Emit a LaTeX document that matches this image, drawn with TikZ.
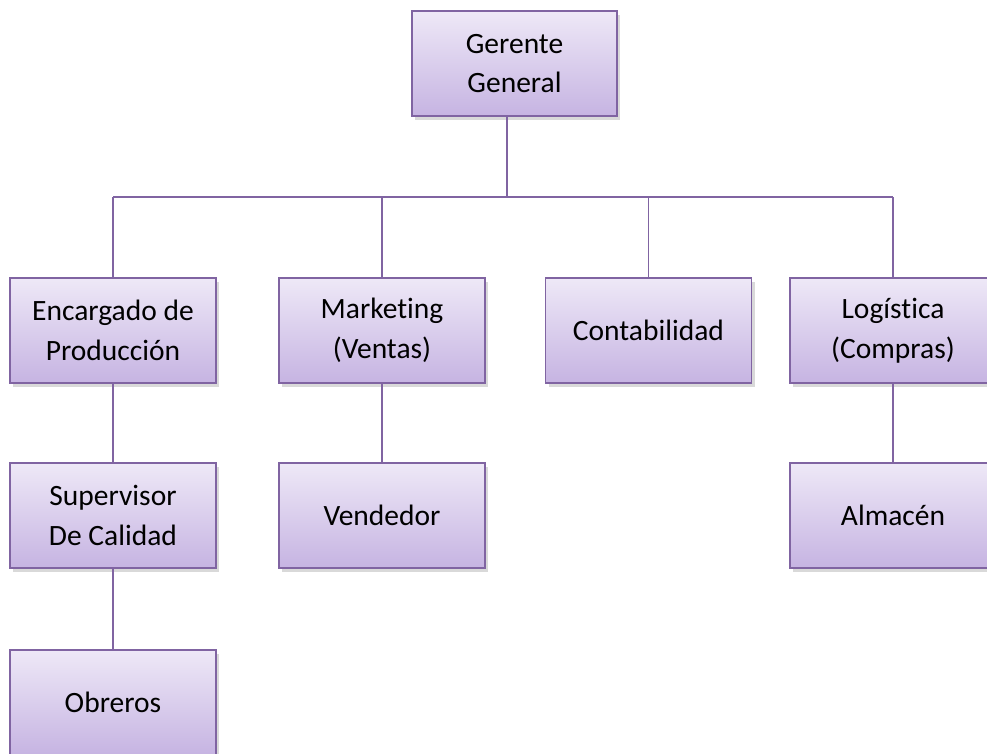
\documentclass[tikz,border=0pt]{standalone}
\usepackage{fontspec}
\setmainfont{Carlito}[Ligatures={NoCommon}]
\usetikzlibrary{shadows}
\definecolor{boxborder}{HTML}{8064A2}
\definecolor{boxtop}{HTML}{EEE8F7}
\definecolor{boxbottom}{HTML}{C6B4E2}
\definecolor{linkcol}{HTML}{8064A2}
\tikzset{
  orgbox/.style={draw=boxborder, line width=1.6pt, top color=boxtop, bottom color=boxbottom,
    minimum width=206pt, minimum height=105pt, align=center, inner sep=2pt,
    font=\fontsize{29.5}{39.5}\selectfont,
    drop shadow={shadow xshift=3pt, shadow yshift=-4pt, opacity=0.25, fill=black!60}},
  link/.style={draw=linkcol, line width=1.8pt}
}
\begin{document}
\begin{tikzpicture}[x=1pt,y=-1pt]
\useasboundingbox (0,0) rectangle (987,753);
\node[orgbox, minimum width=205pt] (gg) at (514.5,63.5) {Gerente\\General};
\node[orgbox] (enc) at (113,330.5) {Encargado de\\Producción};
\node[orgbox] (mkt) at (382,330.5) {Marketing\\(Ventas)};
\node[orgbox] (cont) at (648.5,330.5) {Contabilidad};
\node[orgbox] (log) at (893,330.5) {Logística\\(Compras)};
\node[orgbox] (sup) at (113,515.5) {Supervisor\\De Calidad};
\node[orgbox] (ven) at (382,515.5) {Vendedor};
\node[orgbox] (alm) at (893,515.5) {Almacén};
\node[orgbox] (obr) at (113,702.5) {Obreros};
\coordinate (bus) at (507,197);
\draw[link] (gg.south -| bus) -- (bus);
\draw[link] (bus -| enc.north) -- (bus -| log.north);
\draw[link] (bus -| enc.north) -- (enc.north);
\draw[link] (bus -| mkt.north) -- (mkt.north);
\draw[link] (bus -| cont.north) -- (cont.north);
\draw[link] (bus -| log.north) -- (log.north);
\draw[link] (enc.south) -- (sup.north);
\draw[link] (sup.south) -- (obr.north);
\draw[link] (mkt.south) -- (ven.north);
\draw[link] (log.south) -- (alm.north);
\end{tikzpicture}
\end{document}
